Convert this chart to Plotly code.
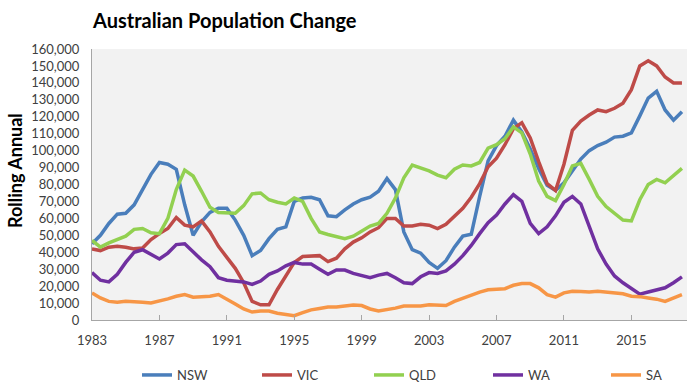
import plotly.graph_objects as go

# half-year sample points (decimal years)
years = [1983 + 0.5 * i for i in range(71)]

nsw = [45000, 50000, 57000, 62500, 63000, 68000, 77000, 86000, 93000, 92000,
       89000, 68000, 50000, 58000, 63500, 66000, 66000, 59000, 50000, 38000,
       41000, 48000, 53500, 55000, 70000, 72000, 72500, 71000, 61500, 61000,
       65000, 68500, 71000, 72500, 76000, 83500, 77000, 52000, 41500, 39500,
       34000, 30500, 35000, 43000, 49500, 50600, 73000, 94000, 103000, 108500,
       118000, 111000, 101000, 89500, 79500, 76500, 81000, 88000, 95000, 100000,
       103000, 105000, 108000, 108500, 110500, 120500, 131000, 135000, 124000, 118000,
       123000]

vic = [42000, 41000, 43000, 43500, 43000, 42000, 42500, 47500, 51000, 54000,
       60500, 56000, 55000, 58500, 52000, 43500, 37000, 30500, 22000, 11000,
       9000, 9000, 18000, 26000, 34000, 37500, 37500, 38000, 34500, 36500,
       42000, 46000, 48500, 52000, 54500, 60000, 60000, 55500, 55500, 56500,
       56000, 54000, 56500, 61000, 66000, 72500, 80500, 90500, 95500, 103500,
       113000, 116500, 107500, 93500, 80500, 76500, 92000, 112000, 117500, 121000,
       124000, 123000, 125000, 128000, 136000, 150000, 153000, 150000, 143500, 140000,
       140000]

qld = [47000, 43000, 45500, 47500, 49500, 53500, 54000, 51500, 51000, 60000,
       77000, 88500, 85000, 76000, 66500, 63500, 63500, 63000, 67500, 74500,
       75000, 71000, 69500, 68500, 72000, 70000, 60000, 52000, 50500, 49000,
       48000, 49500, 52500, 55500, 57000, 63000, 72000, 84000, 91500, 90000,
       88000, 85500, 84000, 89000, 91500, 91000, 93000, 101500, 103500, 107000,
       114000, 110500, 98000, 82000, 73000, 70500, 80000, 91000, 92500, 83000,
       73000, 67000, 63000, 59000, 58500, 71000, 80000, 83000, 81000, 85000,
       89500]

wa = [28000, 23500, 22500, 27000, 34000, 40000, 41500, 38500, 36000, 39500,
      44500, 45000, 40000, 35500, 31500, 25000, 23500, 23000, 22500, 21000,
      23000, 27000, 29000, 32000, 34000, 33000, 33000, 30000, 27000, 29500,
      29500, 27500, 26500, 25000, 26500, 27500, 25000, 22000, 21500, 25500,
      28000, 27500, 29000, 33000, 38000, 44000, 51000, 57500, 62000, 68500,
      74000, 70000, 57000, 51000, 55000, 61500, 69500, 73000, 68500, 55000,
      42000, 33000, 26000, 22000, 18500, 15300, 16500, 17500, 19000, 22000,
      25500]

sa = [16000, 13000, 11000, 10500, 11000, 11000, 10500, 10000, 11000, 12500,
      14000, 15000, 13500, 13500, 14000, 15000, 12500, 9500, 6500, 4700,
      5300, 5300, 4000, 3000, 2500, 4300, 6000, 6800, 7700, 7700,
      8200, 8800, 8500, 6500, 5300, 6000, 7000, 8300, 8300, 8300,
      9000, 8500, 8500, 11000, 13000, 14500, 16500, 17800, 18000, 18500,
      20500, 21500, 21500, 19000, 15000, 13500, 16000, 17000, 16800, 16500,
      17000, 16500, 16500, 15500, 14000, 13800, 13000, 12300, 11000, 13200,
      15000]

series_names = ["NSW", "VIC", "QLD", "WA", "SA"]
series_values = [nsw, vic, qld, wa, sa]
colors = ["#4A7EBB", "#BE4B48", "#92D050", "#7030A0", "#F79646"]

tick_years = [1983, 1987, 1991, 1995, 1999, 2003, 2007, 2011, 2015]
y_ticks = list(range(0, 160001, 10000))

font_family = "Lato, Carlito, Calibri, sans-serif"

W, H = 690, 386

# one legend per series so each entry sits where the reference puts it
legend_ids = ["legend", "legend2", "legend3", "legend4", "legend5"]
legend_left_px = [137, 257, 369, 488, 606]

fig = go.Figure()
for name, vals, col, lid in zip(series_names, series_values, colors, legend_ids):
    fig.add_trace(go.Scatter(x=years, y=vals, mode="lines", name=name,
                             legend=lid, line=dict(color=col, width=3.5)))

plot_l, plot_w = 92, 595
plot_b, plot_h = 320, 271

legend_layout = {}
for lid, px in zip(legend_ids, legend_left_px):
    legend_layout[lid] = dict(orientation="h",
                              xref="container", x=px / W, xanchor="left",
                              yref="container", y=1 - 375 / H, yanchor="middle",
                              font=dict(family=font_family, size=13, color="#404040"),
                              bgcolor="rgba(0,0,0,0)")

fig.update_layout(
    width=W, height=H,
    margin=dict(l=92, r=3, t=49, b=66, autoexpand=False),
    paper_bgcolor="white",
    plot_bgcolor="#F2F2F2",
    font=dict(family=font_family, size=13, color="#404040"),
    title=dict(text="<b>Australian Population Change</b>",
               x=93 / W, xanchor="left", xref="container",
               y=1 - 21 / H, yanchor="middle", yref="container",
               font=dict(family=font_family, size=20, color="#000000")),
    showlegend=True,
    xaxis=dict(range=[1983, 2018.3], tickvals=tick_years,
               ticktext=[str(t) for t in tick_years],
               showgrid=False, zeroline=False,
               showline=True, linecolor="#A6A6A6", linewidth=1,
               ticks="inside", ticklen=5, tickcolor="#A6A6A6",
               ticklabelstandoff=8,
               tickfont=dict(family=font_family, size=13, color="#404040")),
    yaxis=dict(range=[0, 160000], tickvals=y_ticks,
               tickformat=",d", showgrid=False, zeroline=False,
               showline=True, linecolor="#A6A6A6", linewidth=1,
               ticks="", ticklabelstandoff=9,
               tickfont=dict(family=font_family, size=13, color="#404040")),
    annotations=[dict(text="<b>Rolling Annual</b>", textangle=-90,
                      xref="paper", yref="paper",
                      x=(15 - plot_l) / plot_w, y=(plot_b - 170) / plot_h,
                      xanchor="center", yanchor="middle", showarrow=False,
                      font=dict(family=font_family, size=18, color="#000000"))],
    **legend_layout,
)

fig.write_html("out.html", config={"displayModeBar": False},
               post_script="document.body.style.margin='0';")
